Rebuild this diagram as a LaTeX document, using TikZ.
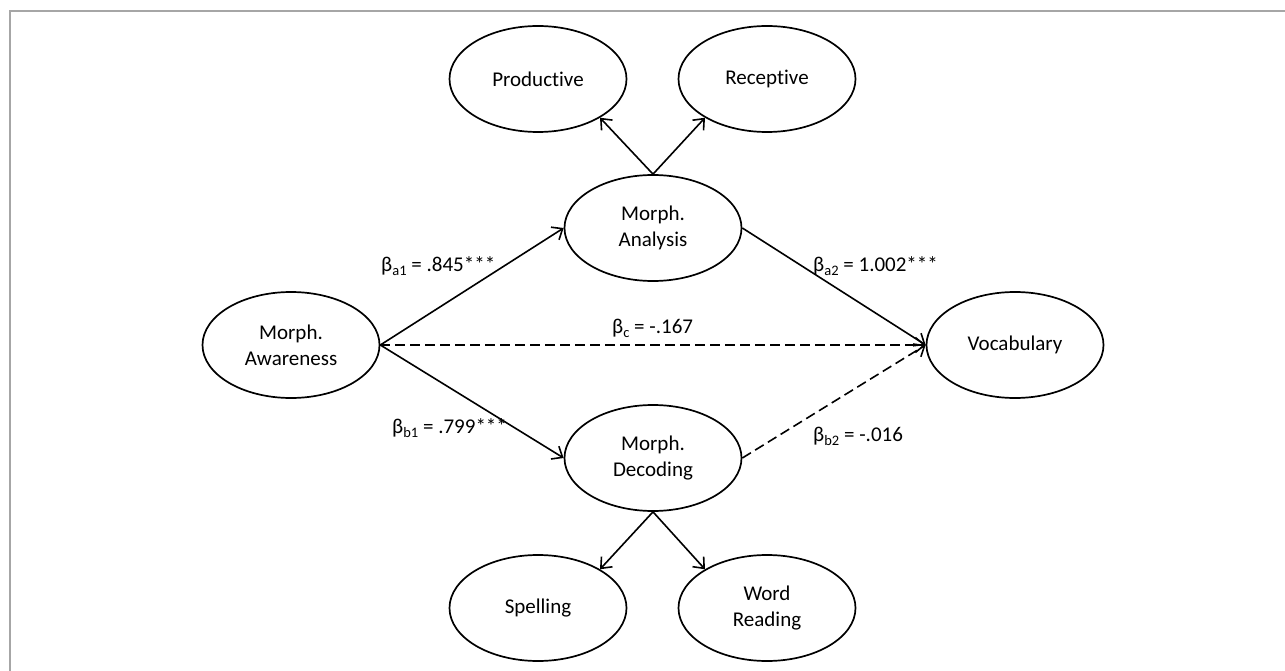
\documentclass[tikz,border=0pt]{standalone}
\usepackage{fontspec}
\setmainfont{Carlito}[Ligatures={NoCommon}]
\usetikzlibrary{arrows.meta,shapes.geometric}
\newcommand\bsub[1]{\raisebox{-4pt}{\fontsize{14.5}{14.5}\selectfont #1}}
\begin{document}
\begin{tikzpicture}[x=1pt,y=-1pt,
  lat/.style={ellipse, draw, line width=1.7pt, minimum width=177pt, minimum height=106pt, inner sep=0pt, font=\fontsize{21}{26}\selectfont, align=center},
  arr/.style={line width=1.6pt, -{Straight Barb[length=9pt,width=15pt,line width=1.6pt]}},
  dsh/.style={arr, dash pattern=on 10pt off 5pt},
  lbl/.style={font=\fontsize{21}{26}\selectfont, anchor=base west, inner sep=0pt}]
\useasboundingbox (0,0) rectangle (1285,671);
\coordinate (fbl) at (10,671);
\coordinate (ftl) at (10,11);
\coordinate (ftr) at (1285,11);
\draw[black!35, line width=2pt] (fbl) -- (ftl) -- (ftr);

\node[lat] (prod) at (538,79) {Productive};
\node[lat] (rec) at (767,79) {Receptive};
\node[lat] (ana) at (653,228) {Morph.\\Analysis};
\node[lat] (aw) at (291,345) {Morph.\\Awareness};
\node[lat] (voc) at (1015,345) {Vocabulary};
\node[lat] (dec) at (653,458) {Morph.\\Decoding};
\node[lat] (sp) at (538,608) {Spelling};
\node[lat] (wr) at (767,608) {Word\\Reading};

\draw[arr] (ana.north) -- (prod.-32);
\draw[arr] (ana.north) -- (rec.-148);
\draw[arr] (dec.south) -- (sp.32);
\draw[arr] (dec.south) -- (wr.148);
\draw[arr] (aw.east) -- (ana.west);
\draw[arr] (aw.east) -- (dec.west);
\draw[arr] (ana.east) -- (voc.west);
\draw[dsh] (aw.east) -- (voc.west);
\draw[dsh] (dec.east) -- (voc.west);

\node[lbl] (la1) at (381,271) {β\bsub{a1} = .845***};
\node[lbl] (la2) at (813,271) {β\bsub{a2} = 1.002***};
\node[lbl] (lc) at (612,333) {β\bsub{c} = -.167};
\node[lbl] (lb1) at (392,433) {β\bsub{b1} = .799***};
\node[lbl] (lb2) at (813,441) {β\bsub{b2} = -.016};
\end{tikzpicture}
\end{document}
